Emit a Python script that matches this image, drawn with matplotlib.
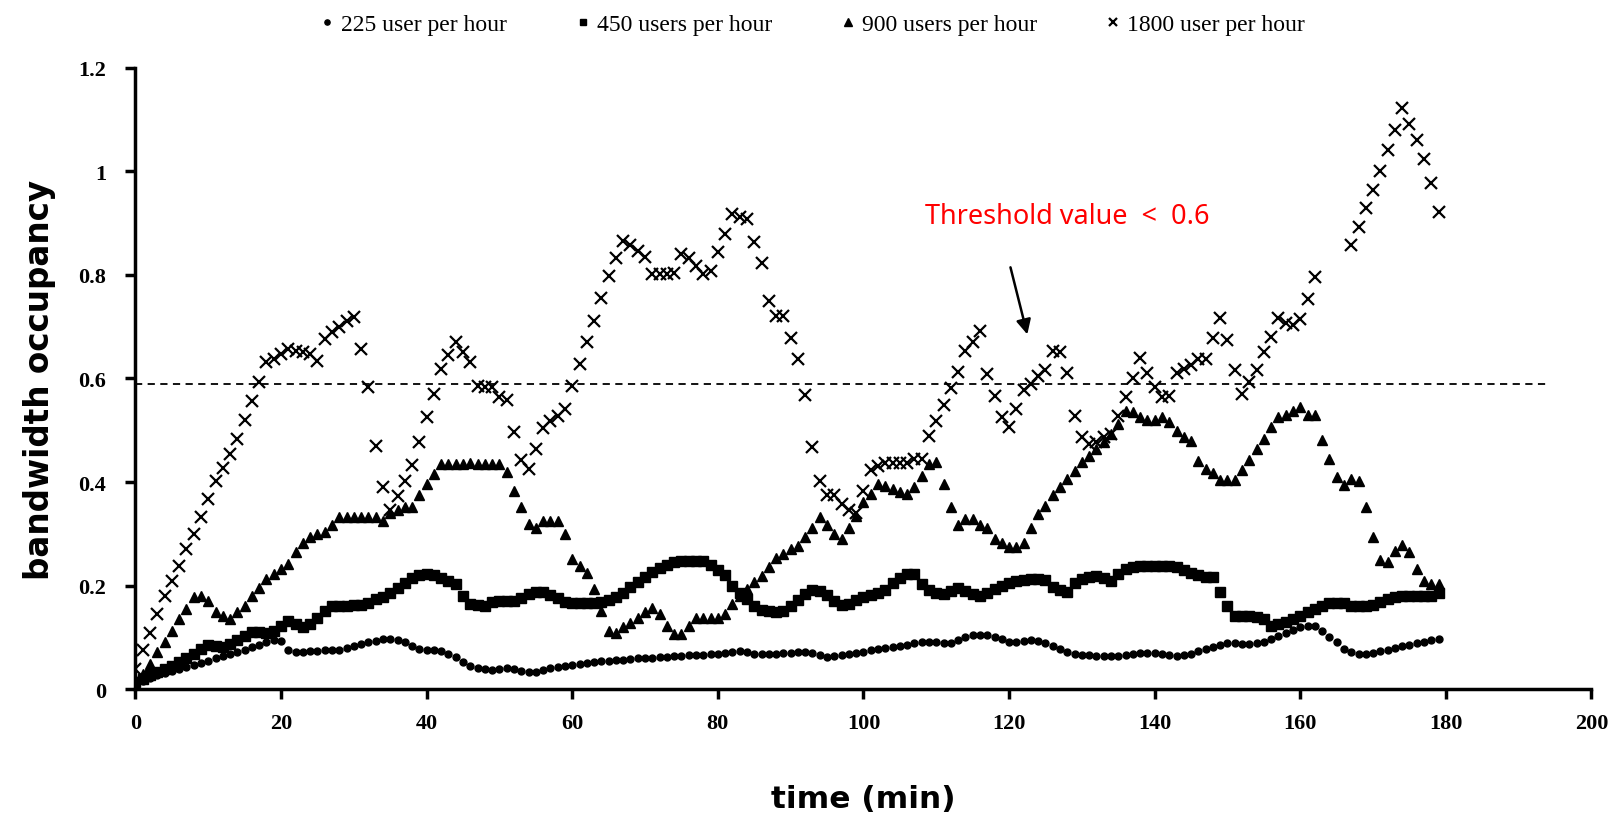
import numpy as np
import matplotlib
matplotlib.use("Agg")
import matplotlib.pyplot as plt

# minutes 0..179, one sample per minute
minutes = list(range(180))

users_225 = [
    0.010, 0.016, 0.022, 0.027, 0.031, 0.035, 0.039, 0.043, 0.047, 0.051,
    0.055, 0.059, 0.063, 0.067, 0.071, 0.076, 0.081, 0.086, 0.091, 0.095,
    0.093, 0.076, 0.072, 0.072, 0.073, 0.074, 0.075, 0.075, 0.076, 0.079,
    0.083, 0.087, 0.090, 0.093, 0.096, 0.097, 0.095, 0.090, 0.084, 0.078,
    0.075, 0.075, 0.074, 0.068, 0.062, 0.053, 0.045, 0.041, 0.038, 0.036,
    0.038, 0.041, 0.038, 0.034, 0.032, 0.033, 0.037, 0.040, 0.043, 0.045,
    0.047, 0.049, 0.051, 0.053, 0.054, 0.055, 0.056, 0.057, 0.058, 0.059,
    0.060, 0.060, 0.061, 0.062, 0.063, 0.064, 0.065, 0.065, 0.066, 0.067,
    0.068, 0.070, 0.072, 0.074, 0.071, 0.068, 0.067, 0.067, 0.068, 0.069,
    0.070, 0.071, 0.072, 0.070, 0.066, 0.062, 0.063, 0.066, 0.068, 0.070,
    0.072, 0.075, 0.077, 0.079, 0.081, 0.083, 0.086, 0.088, 0.090, 0.091,
    0.090, 0.089, 0.089, 0.095, 0.101, 0.105, 0.105, 0.104, 0.101, 0.096,
    0.091, 0.090, 0.093, 0.094, 0.092, 0.088, 0.084, 0.078, 0.071, 0.067,
    0.066, 0.065, 0.064, 0.063, 0.063, 0.064, 0.065, 0.067, 0.069, 0.070,
    0.070, 0.068, 0.065, 0.064, 0.065, 0.068, 0.073, 0.077, 0.082, 0.086,
    0.088, 0.088, 0.087, 0.087, 0.088, 0.090, 0.096, 0.103, 0.109, 0.115,
    0.119, 0.121, 0.121, 0.112, 0.101, 0.090, 0.078, 0.071, 0.068, 0.068,
    0.070, 0.073, 0.076, 0.080, 0.083, 0.086, 0.089, 0.091, 0.094, 0.096,
]

users_450 = [
    0.013, 0.020, 0.027, 0.033, 0.039, 0.045, 0.052, 0.059, 0.068, 0.078,
    0.086, 0.084, 0.082, 0.087, 0.094, 0.102, 0.110, 0.110, 0.108, 0.113,
    0.122, 0.132, 0.126, 0.120, 0.126, 0.138, 0.150, 0.160, 0.161, 0.161,
    0.162, 0.163, 0.167, 0.173, 0.178, 0.186, 0.195, 0.205, 0.214, 0.220,
    0.222, 0.220, 0.214, 0.208, 0.203, 0.180, 0.164, 0.162, 0.161, 0.168,
    0.171, 0.171, 0.171, 0.176, 0.184, 0.188, 0.187, 0.182, 0.176, 0.168,
    0.167, 0.167, 0.167, 0.167, 0.169, 0.172, 0.178, 0.186, 0.197, 0.207,
    0.217, 0.226, 0.233, 0.240, 0.245, 0.247, 0.248, 0.248, 0.247, 0.240,
    0.230, 0.221, 0.200, 0.186, 0.173, 0.160, 0.153, 0.150, 0.148, 0.150,
    0.160, 0.172, 0.184, 0.192, 0.189, 0.181, 0.171, 0.162, 0.165, 0.172,
    0.178, 0.182, 0.186, 0.192, 0.205, 0.214, 0.222, 0.222, 0.203, 0.192,
    0.186, 0.184, 0.190, 0.196, 0.190, 0.183, 0.180, 0.185, 0.193, 0.200,
    0.205, 0.208, 0.210, 0.212, 0.213, 0.210, 0.197, 0.192, 0.188, 0.205,
    0.212, 0.216, 0.219, 0.214, 0.209, 0.222, 0.232, 0.236, 0.238, 0.238,
    0.238, 0.238, 0.238, 0.236, 0.230, 0.224, 0.220, 0.217, 0.216, 0.187,
    0.160, 0.141, 0.141, 0.141, 0.140, 0.135, 0.122, 0.125, 0.129, 0.135,
    0.141, 0.148, 0.154, 0.160, 0.166, 0.167, 0.166, 0.161, 0.160, 0.160,
    0.162, 0.168, 0.174, 0.177, 0.179, 0.179, 0.179, 0.179, 0.180, 0.186,
]

users_900 = [
    0.020, 0.030, 0.048, 0.071, 0.090, 0.112, 0.135, 0.154, 0.177, 0.180,
    0.171, 0.148, 0.141, 0.135, 0.148, 0.161, 0.180, 0.196, 0.212, 0.222,
    0.232, 0.241, 0.264, 0.283, 0.293, 0.300, 0.303, 0.316, 0.332, 0.332,
    0.332, 0.332, 0.332, 0.332, 0.325, 0.341, 0.345, 0.351, 0.351, 0.374,
    0.396, 0.416, 0.435, 0.435, 0.435, 0.435, 0.437, 0.435, 0.435, 0.435,
    0.435, 0.419, 0.383, 0.351, 0.319, 0.312, 0.325, 0.325, 0.325, 0.300,
    0.251, 0.238, 0.225, 0.193, 0.151, 0.112, 0.109, 0.119, 0.128, 0.138,
    0.148, 0.157, 0.145, 0.122, 0.106, 0.106, 0.122, 0.138, 0.138, 0.138,
    0.138, 0.145, 0.164, 0.180, 0.193, 0.206, 0.219, 0.235, 0.254, 0.261,
    0.270, 0.277, 0.293, 0.312, 0.332, 0.316, 0.300, 0.290, 0.312, 0.335,
    0.361, 0.377, 0.396, 0.393, 0.386, 0.380, 0.377, 0.390, 0.412, 0.435,
    0.438, 0.396, 0.351, 0.316, 0.329, 0.329, 0.316, 0.312, 0.290, 0.283,
    0.274, 0.274, 0.283, 0.312, 0.338, 0.354, 0.374, 0.390, 0.406, 0.422,
    0.438, 0.451, 0.464, 0.477, 0.493, 0.512, 0.538, 0.535, 0.525, 0.519,
    0.519, 0.525, 0.515, 0.499, 0.486, 0.480, 0.441, 0.425, 0.417, 0.403,
    0.403, 0.403, 0.423, 0.442, 0.464, 0.483, 0.506, 0.525, 0.529, 0.537,
    0.544, 0.529, 0.529, 0.482, 0.444, 0.409, 0.394, 0.406, 0.401, 0.352,
    0.293, 0.249, 0.246, 0.266, 0.278, 0.264, 0.232, 0.208, 0.203, 0.202,
]

nan = float("nan")
users_1800 = [
    0.039, 0.075, 0.109, 0.145, 0.180, 0.209, 0.238, 0.271, 0.300, 0.332,
    0.367, 0.402, 0.428, 0.454, 0.483, 0.519, 0.557, 0.593, 0.631, 0.638,
    0.647, 0.657, 0.654, 0.651, 0.647, 0.634, 0.676, 0.689, 0.699, 0.712,
    0.718, 0.657, 0.583, 0.470, 0.390, 0.345, 0.372, 0.401, 0.432, 0.478,
    0.525, 0.571, 0.618, 0.645, 0.671, 0.652, 0.632, 0.585, 0.583, 0.583,
    0.565, 0.558, 0.496, 0.442, 0.425, 0.464, 0.504, 0.517, 0.528, 0.542,
    0.586, 0.628, 0.670, 0.712, 0.756, 0.799, 0.832, 0.866, 0.857, 0.847,
    0.834, 0.802, 0.802, 0.802, 0.804, 0.840, 0.832, 0.817, 0.802, 0.808,
    0.844, 0.879, 0.918, 0.913, 0.909, 0.863, 0.823, 0.750, 0.721, 0.720,
    0.678, 0.638, 0.568, 0.467, 0.402, 0.374, 0.374, 0.357, 0.345, 0.341,
    0.383, 0.424, 0.430, 0.437, 0.437, 0.437, 0.437, 0.444, 0.444, 0.488,
    0.518, 0.548, 0.581, 0.612, 0.654, 0.671, 0.691, 0.609, 0.567, 0.525,
    0.506, 0.541, 0.578, 0.589, 0.604, 0.617, 0.654, 0.651, 0.610, 0.528,
    0.486, 0.473, 0.478, 0.486, 0.492, 0.528, 0.564, 0.600, 0.639, 0.610,
    0.583, 0.564, 0.566, 0.610, 0.619, 0.627, 0.637, 0.637, 0.678, 0.716,
    0.675, 0.617, 0.571, 0.594, 0.617, 0.651, 0.681, 0.716, 0.708, 0.703,
    0.714, 0.754, 0.796, nan, nan, nan, nan, 0.858, 0.893, 0.929,
    0.965, 1.001, 1.041, 1.081, 1.123, 1.092, 1.060, 1.024, 0.977, 0.921,
]

series_labels = ["225 user per hour", "450 users per hour",
                 "900 users per hour", "1800 user per hour"]
threshold = 0.59

fig = plt.figure(figsize=(16.2, 8.2), dpi=100)
ax = fig.add_axes([0.0836, 0.1585, 0.8988, 0.7574])

ax.plot(minutes, users_225, 'o', color='black', markersize=5, label=series_labels[0])
ax.plot(minutes, users_450, 's', color='black', markersize=6.5, label=series_labels[1])
ax.plot(minutes, users_900, '^', color='black', markersize=7.5, label=series_labels[2])
ax.plot(minutes, users_1800, 'x', color='black', markersize=8.5, markeredgewidth=1.6,
        label=series_labels[3])

ax.hlines(threshold, 0, 194, colors='black', linestyles=(0, (4, 3)), linewidth=1.3)

ax.text(108.5, 0.914, "Threshold value  <  0.6", color='red', fontsize=19.5,
        family='Noto Sans', va='center', ha='left')
ax.annotate("", xy=(122.6, 0.68), xytext=(120.1, 0.82),
            arrowprops=dict(arrowstyle='-|>', color='black', lw=1.8, mutation_scale=22))

ax.set_xlim(0, 200)
ax.set_ylim(0, 1.2)
ax.set_xticks(range(0, 201, 20))
ax.set_yticks([0, 0.2, 0.4, 0.6, 0.8, 1.0, 1.2])
ax.set_yticklabels(["0", "0.2", "0.4", "0.6", "0.8", "1", "1.2"])
for lab in ax.get_xticklabels() + ax.get_yticklabels():
    lab.set_family('Liberation Serif')
    lab.set_fontweight('bold')
    lab.set_fontsize(16)

ax.spines['top'].set_visible(False)
ax.spines['right'].set_visible(False)
ax.spines['left'].set_linewidth(2.5)
ax.spines['bottom'].set_linewidth(2.5)
ax.tick_params(direction='out', length=7, width=2.5)
ax.tick_params(axis='x', pad=10)
ax.tick_params(axis='y', pad=14)

ax.set_xlabel("time (min)", fontsize=22.5, fontweight='bold', family='DejaVu Sans', labelpad=37)
ax.set_ylabel("bandwidth occupancy", fontsize=23.5, fontweight='bold', family='DejaVu Sans', labelpad=16)

fig.legend(loc='upper center', bbox_to_anchor=(0.5, 1.008), ncol=4, frameon=False,
           prop={'family': 'Liberation Serif', 'size': 17}, handletextpad=0.1,
           columnspacing=2.7, markerscale=0.75, handlelength=1.0)

fig.savefig("out.png", dpi=100)
